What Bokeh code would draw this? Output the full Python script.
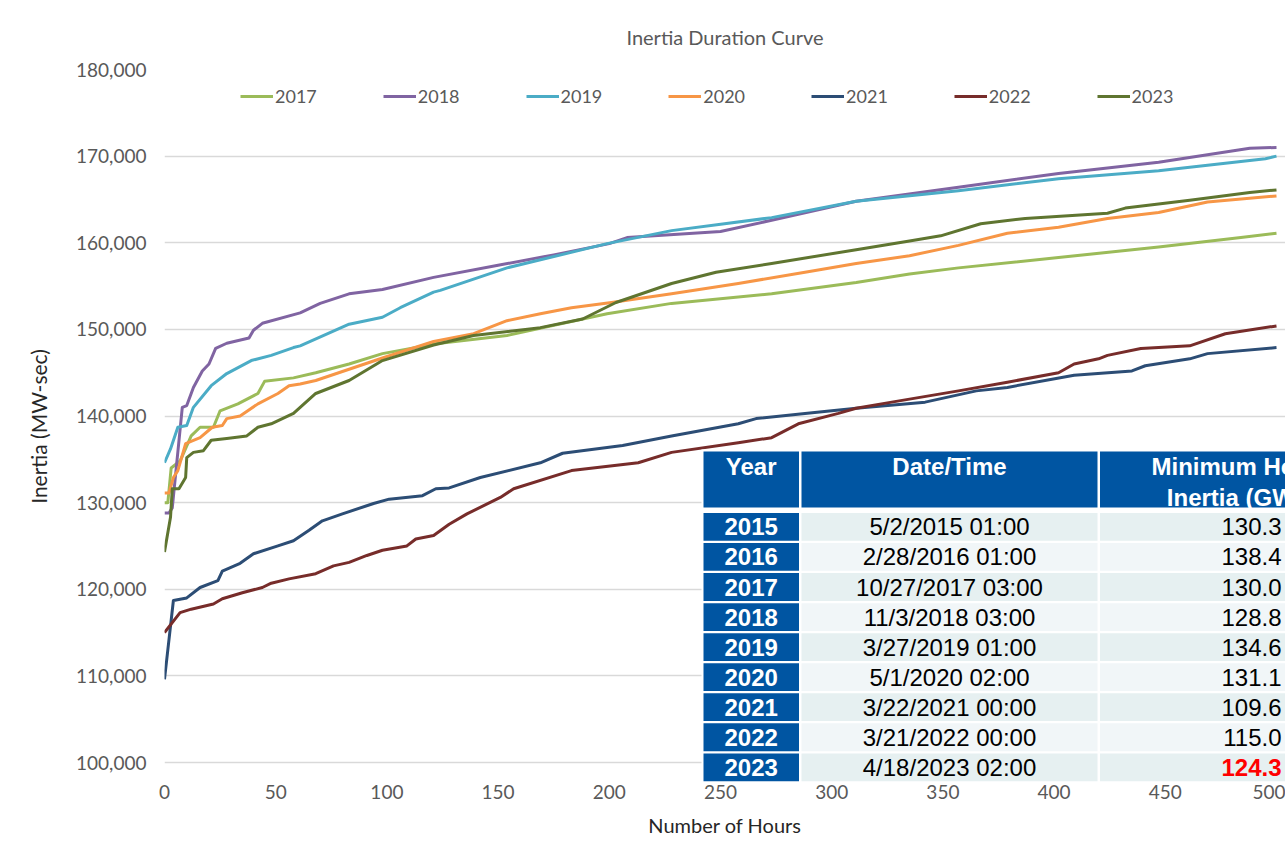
import numpy as np
from bokeh.plotting import figure
from bokeh.models import Range1d, FixedTicker, NumeralTickFormatter, Legend, LegendItem, Title
from bokeh.core.properties import value
from bokeh.embed import file_html
from bokeh.resources import INLINE

# ---------------- data ----------------
years = ["2017", "2018", "2019", "2020", "2021", "2022", "2023"]

hours_2017 = [0, 1.5, 3, 7, 12, 16, 22, 25, 33, 42, 45, 58, 68, 83, 98, 121, 154, 199, 228, 273, 311, 335, 357, 402, 447, 484, 500]
inertia_2017 = [130000, 130000, 134000, 134800, 137700, 138700, 138700, 140600, 141400, 142600, 144000, 144400, 145000, 146000, 147200, 148300, 149300, 151800, 153000, 154100, 155400, 156400, 157100, 158300, 159500, 160600, 161100]

hours_2018 = [0, 2, 3.5, 8, 10, 13, 17, 20, 23, 28, 38, 40, 44, 61, 70, 83, 98, 121, 150, 175, 200, 208, 250, 273, 311, 357, 402, 447, 488, 500]
inertia_2018 = [128800, 128800, 129400, 141000, 141200, 143300, 145200, 146000, 147800, 148400, 149000, 149900, 150700, 151900, 153000, 154100, 154600, 156000, 157400, 158600, 159900, 160600, 161300, 162600, 164800, 166400, 168000, 169300, 170900, 171000]

hours_2019 = [0, 2.7, 6, 10, 13, 21, 28, 39, 48, 58, 61, 83, 98, 106, 121, 124, 154, 199, 228, 273, 311, 357, 402, 447, 495, 500]
inertia_2019 = [134600, 136200, 138700, 138900, 141000, 143500, 144900, 146400, 147000, 147900, 148100, 150600, 151400, 152500, 154300, 154500, 157100, 159900, 161400, 162900, 164800, 166000, 167400, 168300, 169700, 170000]

hours_2020 = [0, 2, 4, 6, 9.5, 16, 21.5, 26, 28, 34, 42, 51, 56, 61, 68, 98, 121, 139, 154, 169, 183, 201, 228, 258, 288, 311, 335, 357, 379, 402, 424, 447, 469, 500]
inertia_2020 = [131100, 131100, 132900, 133700, 136800, 137500, 138700, 138900, 139700, 140000, 141400, 142600, 143500, 143700, 144100, 146700, 148600, 149500, 151000, 151800, 152500, 153100, 154100, 155300, 156600, 157600, 158500, 159700, 161100, 161800, 162800, 163500, 164700, 165400]

hours_2021 = [0, 4, 10, 16, 24, 26, 34, 40, 51, 58, 65, 71, 80, 94, 101, 116, 122, 128, 142, 169, 179, 206, 228, 258, 266, 288, 311, 342, 365, 379, 409, 435, 441, 461, 469, 500]
inertia_2021 = [109600, 118700, 119000, 120200, 121000, 122100, 123000, 124100, 125000, 125600, 126800, 127900, 128700, 129900, 130400, 130800, 131600, 131700, 132900, 134600, 135700, 136600, 137700, 139100, 139700, 140300, 140900, 141600, 142900, 143300, 144700, 145200, 145800, 146600, 147200, 147900]

hours_2022 = [0, 7, 12, 22, 26, 35, 44, 48, 56, 68, 76, 83, 91, 98, 109, 113, 121, 128, 136, 151, 157, 183, 213, 228, 258, 273, 285, 303, 311, 327, 357, 379, 402, 409, 420, 424, 439, 461, 477, 500]
inertia_2022 = [115000, 117300, 117700, 118300, 118900, 119600, 120200, 120700, 121200, 121800, 122700, 123100, 123900, 124500, 125000, 125800, 126200, 127500, 128700, 130600, 131600, 133700, 134600, 135800, 136900, 137500, 139100, 140300, 140900, 141600, 142900, 143900, 145000, 146000, 146600, 147000, 147800, 148100, 149500, 150400]

hours_2023 = [0, 2.7, 3.5, 6.5, 9.5, 10, 13, 17.5, 21, 28, 37, 42, 48, 58, 61, 68, 83, 98, 121, 139, 169, 188, 203, 228, 248, 273, 311, 335, 349, 367, 387, 424, 432, 461, 488, 500]
inertia_2023 = [124300, 128300, 131600, 131600, 132900, 135200, 135800, 136000, 137200, 137400, 137700, 138700, 139100, 140300, 141000, 142600, 144100, 146400, 148200, 149300, 150200, 151200, 153100, 155300, 156600, 157600, 159200, 160200, 160800, 162200, 162800, 163400, 164000, 164900, 165800, 166100]

table_years = ["2015", "2016", "2017", "2018", "2019", "2020", "2021", "2022", "2023"]
table_dates = ["5/2/2015 01:00", "2/28/2016 01:00", "10/27/2017 03:00", "11/3/2018 03:00",
               "3/27/2019 01:00", "5/1/2020 02:00", "3/22/2021 00:00", "3/21/2022 00:00", "4/18/2023 02:00"]
table_min_inertia = ["130.3", "138.4", "130.0", "128.8", "134.6", "131.1", "109.6", "115.0", "124.3"]
table_headers = ["Year", "Date/Time", "Minimum Hourly", "Inertia (GW·s)"]

x_ticks = list(range(0, 501, 50))
y_ticks = list(range(100000, 180001, 10000))

series_hours = [hours_2017, hours_2018, hours_2019, hours_2020, hours_2021, hours_2022, hours_2023]
series_vals = [inertia_2017, inertia_2018, inertia_2019, inertia_2020, inertia_2021, inertia_2022, inertia_2023]
colors = ["#9BBB59", "#8064A2", "#4BACC6", "#F79646", "#2C4D75", "#772C2A", "#5F7530"]

# ---------------- layout (pixel geometry) ----------------
W, H = 1285, 854
FL, FT = 164, 69          # frame left / top (px)
PY100K = 762              # px where 100,000 sits
FB = 783                  # frame bottom (px), lets the table's last row show
PX500 = 1276              # px where hour 500 sits
Y0, Y1 = 100000, 180000

def dx(px):
    return (px - FL) * 500 / (PX500 - FL)

def dy(py):
    return Y1 - (py - FT) * (Y1 - Y0) / (PY100K - FT)

p = figure(width=W, height=H, output_backend="svg", toolbar_location=None,
           x_range=Range1d(0, dx(W)), y_range=Range1d(dy(FB), Y1),
           min_border_left=FL, min_border_right=0, min_border_top=FT,
           min_border_bottom=H - FB)
p.outline_line_color = None
p.background_fill_color = "white"
p.border_fill_color = "white"

p.xgrid.grid_line_color = None
p.ygrid.grid_line_color = "#D9D9D9"
p.ygrid.grid_line_width = 1.5

FONT = "Lato"
for ax in (p.xaxis[0], p.yaxis[0]):
    ax.axis_line_color = None
    ax.major_tick_line_color = None
    ax.minor_tick_line_color = None
    ax.major_tick_out = 0
    ax.major_tick_in = 0
    ax.major_label_text_font = FONT
    ax.major_label_text_font_size = "19px"
    ax.major_label_text_color = "#595959"
p.xaxis.ticker = FixedTicker(ticks=x_ticks)
p.yaxis.ticker = FixedTicker(ticks=y_ticks)
p.yaxis.formatter = NumeralTickFormatter(format="0,0")
p.yaxis.major_label_standoff = 18
p.xaxis.major_label_standoff = 1

renderers = []
for h, v, c in zip(series_hours, series_vals, colors):
    r = p.line(h, v, line_color=c, line_width=3, line_join="round")
    renderers.append(r)

legend = Legend(items=[LegendItem(label=y, renderers=[r]) for y, r in zip(years, renderers)],
                orientation="horizontal", location=(76, FB - 96 - 11), padding=0, margin=0,
                spacing=66, glyph_width=33, label_standoff=2,
                label_text_font=FONT, label_text_font_size="18px", label_text_color="#595959",
                background_fill_alpha=0, border_line_color=None)
p.add_layout(legend)

frame_cx = (FL + W) / 2
frame_cy = (FT + FB) / 2
p.title = Title(text="Inertia Duration Curve", align="center", offset=653 - frame_cx,
                text_font=FONT, text_font_size="20px", text_font_style="normal",
                text_color="#595959", standoff=42)
p.add_layout(Title(text="Number of Hours", align="center", offset=693 - frame_cx,
                   text_font=FONT, text_font_size="20px", text_font_style="normal",
                   text_color="#262626", standoff=19), "below")
p.add_layout(Title(text="Inertia (MW-sec)", align="center", offset=frame_cy - 406,
                   text_font=FONT, text_font_size="21px", text_font_style="normal",
                   text_color="#262626", standoff=46), "left")

# ---------------- table ----------------
BLUE = "#0055A2"
col_l = [703, 801, 1099.5]
col_r = [798.5, 1097, 1330]
head_t, head_b = 451, 507
row_t0, pitch, row_h = 512.5, 30.05, 27.8

p.quad(left=[dx(701)], right=[dx(1330)], top=[dy(449)], bottom=[dy(782)],
       fill_color="white", line_color=None)
p.quad(left=[dx(l) for l in col_l], right=[dx(r) for r in col_r],
       top=[dy(head_t)] * 3, bottom=[dy(head_b)] * 3, fill_color=BLUE, line_color=None)

n = len(table_years)
tops = [row_t0 + i * pitch for i in range(n)]
bots = [t + row_h for t in tops]
mids = [t + row_h / 2 for t in tops]
row_bg = ["#E6F0F1" if i % 2 == 0 else "#F1F6F8" for i in range(n)]
p.quad(left=[dx(col_l[0])] * n, right=[dx(col_r[0])] * n, top=[dy(t) for t in tops],
       bottom=[dy(b) for b in bots], fill_color=BLUE, line_color=None)
for c in (1, 2):
    p.quad(left=[dx(col_l[c])] * n, right=[dx(col_r[c])] * n, top=[dy(t) for t in tops],
           bottom=[dy(b) for b in bots], fill_color=row_bg, line_color=None)

TF = value("Liberation Sans")
p.text(x=[dx(750.7), dx(949)], y=[dy(466)] * 2, text=table_headers[:2], text_align="center",
       text_baseline="middle", text_font=TF, text_font_size="24px", text_font_style="bold",
       text_color="white")
p.text(x=[dx(1245)] * 2, y=[dy(466), dy(497)], text=table_headers[2:], text_align="center",
       text_baseline="middle", text_font=TF, text_font_size="24px", text_font_style="bold",
       text_color="white")
p.text(x=[dx(750.7)] * n, y=[dy(m) for m in mids], text=table_years, text_align="center",
       text_baseline="middle", text_font=TF, text_font_size="24px", text_font_style="bold",
       text_color="white")
p.text(x=[dx(949)] * n, y=[dy(m) for m in mids], text=table_dates, text_align="center",
       text_baseline="middle", text_font=TF, text_font_size="24px", text_color="black")
p.text(x=[dx(1281)] * (n - 1), y=[dy(m) for m in mids[:-1]], text=table_min_inertia[:-1],
       text_align="right", text_baseline="middle", text_font=TF, text_font_size="24px",
       text_color="black")
p.text(x=[dx(1281)], y=[dy(mids[-1])], text=table_min_inertia[-1:], text_align="right",
       text_baseline="middle", text_font=TF, text_font_size="24px", text_font_style="bold",
       text_color="#FF0000")

open("out.html", "w").write(file_html(p, INLINE))
